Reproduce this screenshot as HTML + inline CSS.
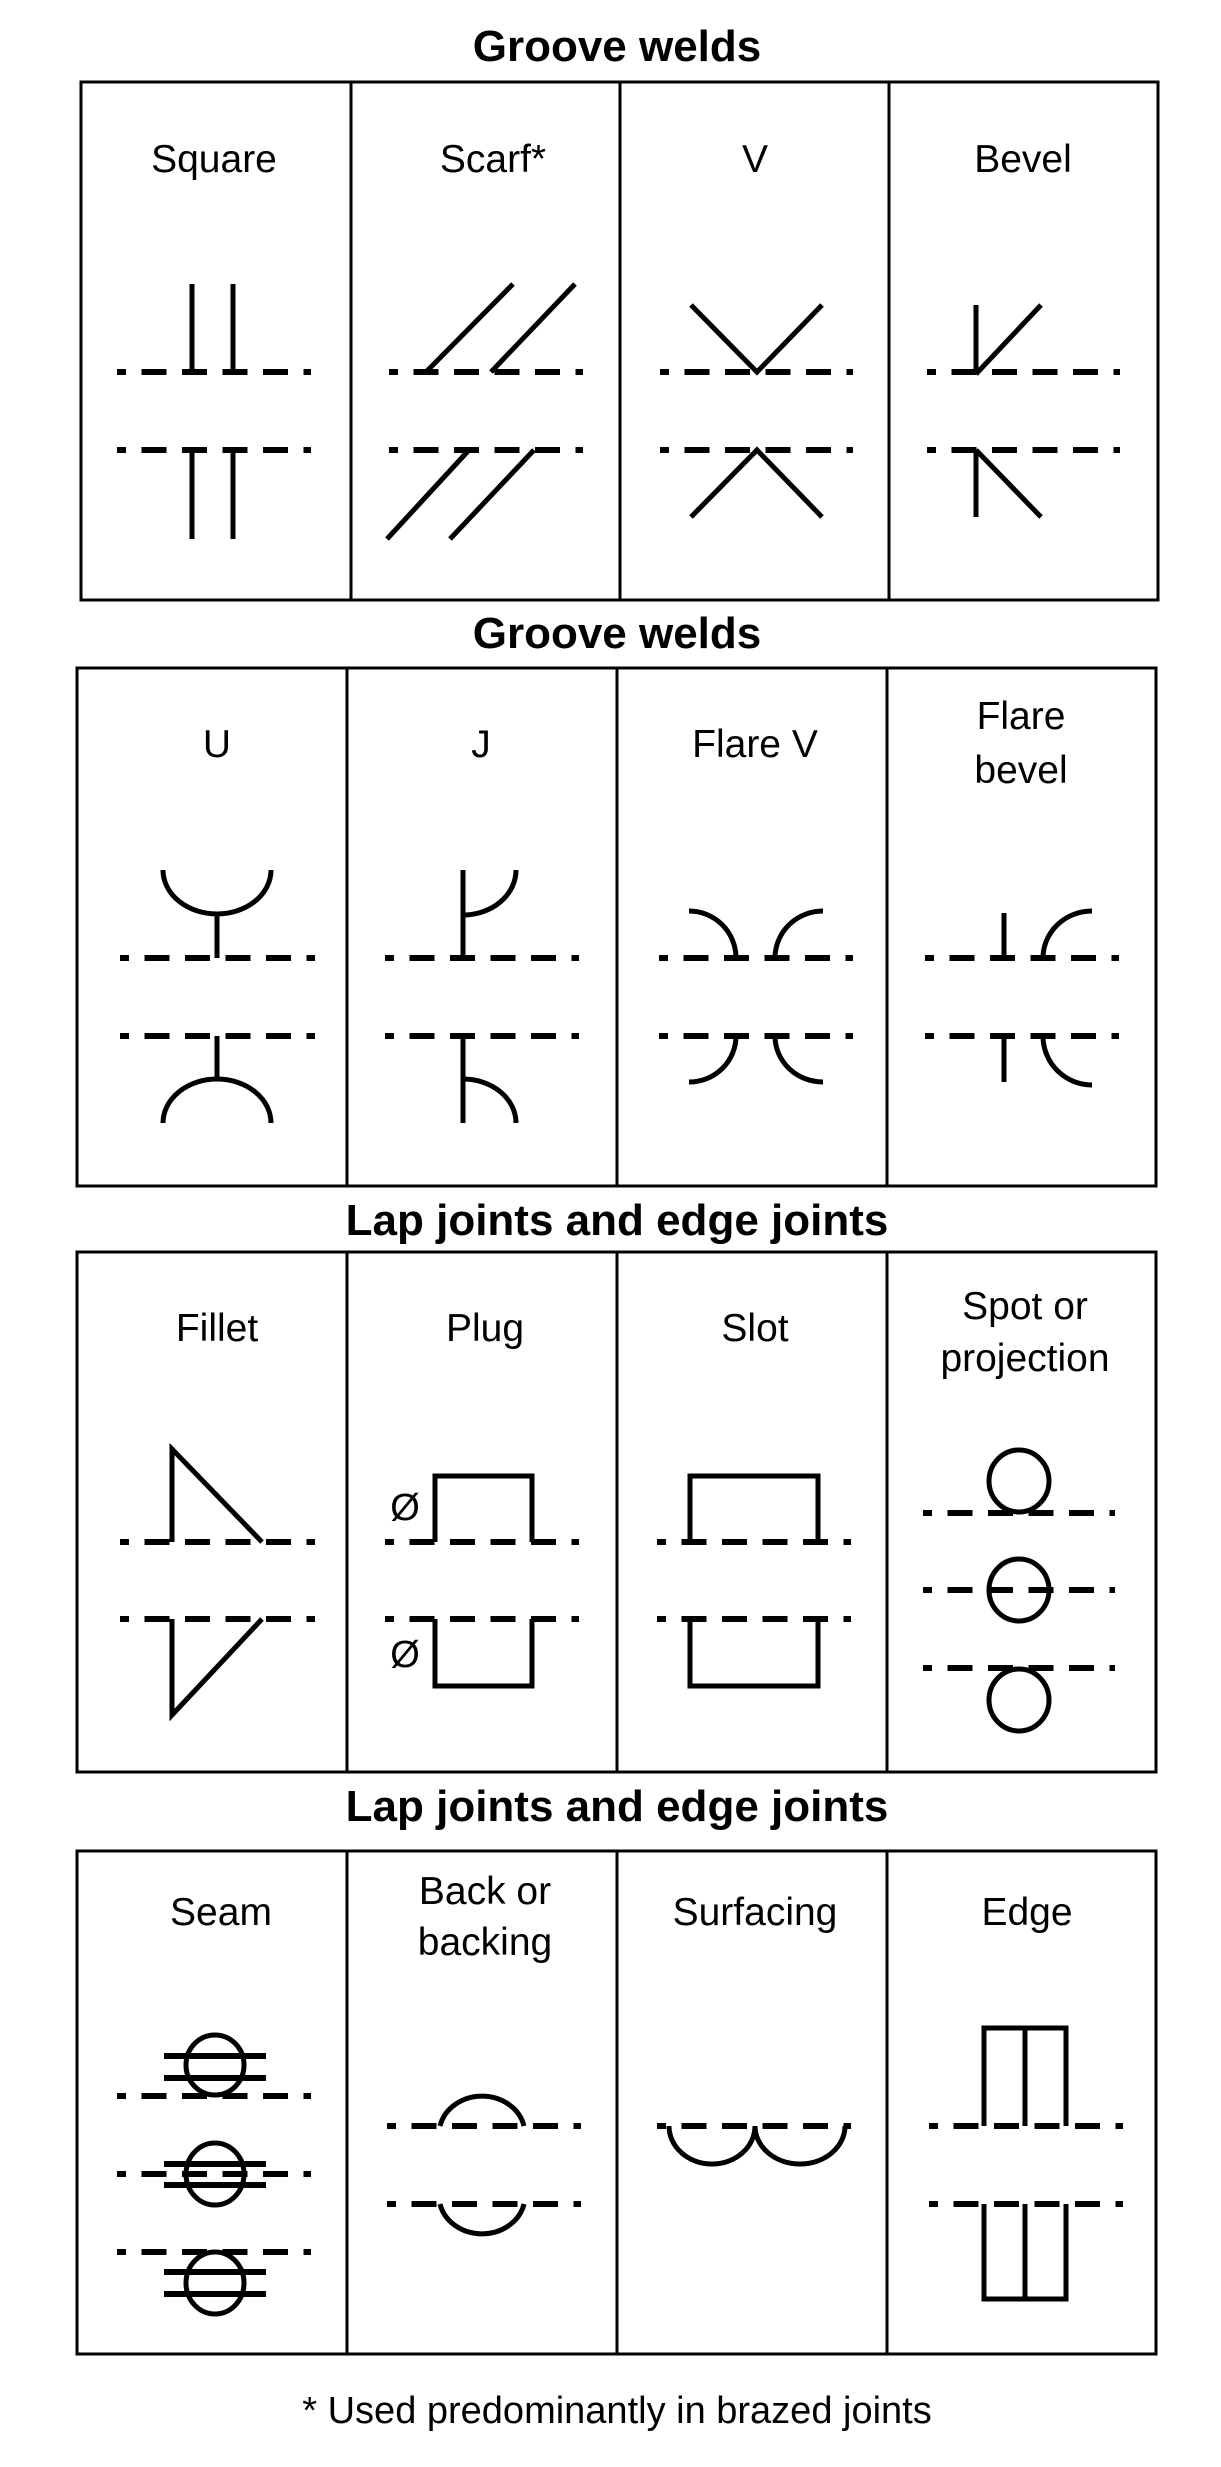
<!DOCTYPE html>
<html><head><meta charset="utf-8"><title>Weld symbols</title>
<style>
html,body{margin:0;padding:0;background:#fff;}
svg{display:block;}
text{font-family:"Liberation Sans",Arial,sans-serif;fill:#000;}
.t{font-size:44px;font-weight:bold;text-anchor:middle;}
.l{font-size:39px;text-anchor:middle;}
.box{fill:none;stroke:#000;stroke-width:3;}
.d{stroke:#000;stroke-width:6;stroke-dasharray:25 15.5;stroke-dashoffset:16;fill:none;}
.s{stroke:#000;stroke-width:5;fill:none;}
</style></head>
<body>
<svg width="1221" height="2467" viewBox="0 0 1221 2467">
<!-- Section 1 -->
<text class="t" x="617" y="61">Groove welds</text>
<g>
<rect class="box" x="81" y="82" width="1077" height="518"/>
<line class="box" x1="351" y1="82" x2="351" y2="600"/>
<line class="box" x1="620" y1="82" x2="620" y2="600"/>
<line class="box" x1="889" y1="82" x2="889" y2="600"/>
</g>
<text class="l" x="214" y="172">Square</text>
<text class="l" x="493" y="172">Scarf*</text>
<text class="l" x="755" y="172">V</text>
<text class="l" x="1023" y="172">Bevel</text>
<g>
<line class="d" x1="117" y1="372" x2="311" y2="372"/><line class="d" x1="117" y1="450" x2="311" y2="450"/>
<path class="s" d="M192,284V372M233,284V372M192,450V539M233,450V539"/>
</g>
<g>
<line class="d" x1="389" y1="372" x2="583" y2="372"/><line class="d" x1="389" y1="450" x2="583" y2="450"/>
<path class="s" d="M426,372L513,284M491,372L575,284M469,450L387,539M534,450L450,539"/>
</g>
<g>
<line class="d" x1="660" y1="372" x2="853" y2="372"/><line class="d" x1="660" y1="450" x2="853" y2="450"/>
<path class="s" d="M691,305L757,372L822,305M691,517L757,450L822,517"/>
</g>
<g>
<line class="d" x1="927" y1="372" x2="1120" y2="372"/><line class="d" x1="927" y1="450" x2="1120" y2="450"/>
<path class="s" d="M976,305V374M976,374L1041,305M976,450V517M976,450L1041,517"/>
</g>

<!-- Section 2 -->
<text class="t" x="617" y="648">Groove welds</text>
<g>
<rect class="box" x="77" y="668" width="1079" height="518"/>
<line class="box" x1="347" y1="668" x2="347" y2="1186"/>
<line class="box" x1="617" y1="668" x2="617" y2="1186"/>
<line class="box" x1="887" y1="668" x2="887" y2="1186"/>
</g>
<text class="l" x="217" y="757">U</text>
<text class="l" x="481" y="757">J</text>
<text class="l" x="755" y="757">Flare V</text>
<text class="l" x="1021" y="729">Flare<tspan x="1021" y="783">bevel</tspan></text>
<g>
<line class="d" x1="120" y1="958" x2="315" y2="958"/><line class="d" x1="120" y1="1036" x2="315" y2="1036"/>
<path class="s" d="M163,870A54,44 0 0 0 271,870M217,914V958M217,1036V1079M163,1123A54,44 0 0 1 271,1123"/>
</g>
<g>
<line class="d" x1="385" y1="958" x2="579" y2="958"/><line class="d" x1="385" y1="1036" x2="579" y2="1036"/>
<path class="s" d="M463,870V958M463,915A53,45 0 0 0 516,870M463,1036V1123M463,1079A53,44 0 0 1 516,1123"/>
</g>
<g>
<line class="d" x1="659" y1="958" x2="853" y2="958"/><line class="d" x1="659" y1="1036" x2="853" y2="1036"/>
<path class="s" d="M689,911A47,47 0 0 1 736,958M775,958A48,47 0 0 1 823,911M736,1036A47,46 0 0 1 689,1082M775,1036A48,46 0 0 0 823,1082"/>
</g>
<g>
<line class="d" x1="925" y1="958" x2="1119" y2="958"/><line class="d" x1="925" y1="1036" x2="1119" y2="1036"/>
<path class="s" d="M1004,913V958M1043,958A49,47 0 0 1 1092,911M1004,1036V1082M1043,1036A49,49 0 0 0 1092,1085"/>
</g>

<!-- Section 3 -->
<text class="t" x="617" y="1235">Lap joints and edge joints</text>
<g>
<rect class="box" x="77" y="1252" width="1079" height="520"/>
<line class="box" x1="347" y1="1252" x2="347" y2="1772"/>
<line class="box" x1="617" y1="1252" x2="617" y2="1772"/>
<line class="box" x1="887" y1="1252" x2="887" y2="1772"/>
</g>
<text class="l" x="217" y="1341">Fillet</text>
<text class="l" x="485" y="1341">Plug</text>
<text class="l" x="755" y="1341">Slot</text>
<text class="l" x="1025" y="1319">Spot or<tspan x="1025" y="1371">projection</tspan></text>
<g>
<line class="d" x1="120" y1="1542" x2="315" y2="1542"/><line class="d" x1="120" y1="1619" x2="315" y2="1619"/>
<path class="s" d="M172,1542V1449L262,1542M172,1619V1715L262,1619"/>
</g>
<g>
<line class="d" x1="385" y1="1542" x2="579" y2="1542"/><line class="d" x1="385" y1="1619" x2="579" y2="1619"/>
<path class="s" d="M435,1542V1476H532V1542M435,1619V1686H532V1619"/>
<text x="405" y="1520" style="font-size:38px;text-anchor:middle">Ø</text>
<text x="405" y="1667" style="font-size:38px;text-anchor:middle">Ø</text>
</g>
<g>
<line class="d" x1="657" y1="1542" x2="851" y2="1542"/><line class="d" x1="657" y1="1619" x2="851" y2="1619"/>
<path class="s" d="M690,1542V1476H818V1542M690,1619V1686H818V1619"/>
</g>
<g>
<line class="d" x1="923" y1="1513" x2="1115" y2="1513"/><line class="d" x1="923" y1="1590" x2="1115" y2="1590"/><line class="d" x1="923" y1="1668" x2="1115" y2="1668"/>
<ellipse class="s" cx="1019" cy="1481" rx="30" ry="31"/>
<ellipse class="s" cx="1019" cy="1590" rx="30" ry="31"/>
<ellipse class="s" cx="1019" cy="1700" rx="30" ry="31"/>
</g>

<!-- Section 4 -->
<text class="t" x="617" y="1821">Lap joints and edge joints</text>
<g>
<rect class="box" x="77" y="1851" width="1079" height="503"/>
<line class="box" x1="347" y1="1851" x2="347" y2="2354"/>
<line class="box" x1="617" y1="1851" x2="617" y2="2354"/>
<line class="box" x1="887" y1="1851" x2="887" y2="2354"/>
</g>
<text class="l" x="221" y="1925">Seam</text>
<text class="l" x="485" y="1904">Back or<tspan x="485" y="1955">backing</tspan></text>
<text class="l" x="755" y="1925">Surfacing</text>
<text class="l" x="1027" y="1925">Edge</text>
<g>
<line class="d" x1="117" y1="2096" x2="311" y2="2096"/><line class="d" x1="117" y1="2174" x2="311" y2="2174"/><line class="d" x1="117" y1="2252" x2="311" y2="2252"/>
<ellipse class="s" cx="215" cy="2065" rx="29" ry="30"/>
<ellipse class="s" cx="215" cy="2174" rx="29" ry="31"/>
<ellipse class="s" cx="215" cy="2283" rx="29" ry="31"/>
<path class="s" style="stroke-width:6" d="M164,2056H266M164,2078H266M164,2164H266M164,2185H266M164,2272H266M164,2294H266"/>
</g>
<g>
<line class="d" x1="387" y1="2126" x2="581" y2="2126"/><line class="d" x1="387" y1="2204" x2="581" y2="2204"/>
<path class="s" d="M440,2126A43,38 0 0 1 524,2126M440,2204A43,38 0 0 0 524,2204"/>
</g>
<g>
<line class="d" x1="657" y1="2126" x2="851" y2="2126"/>
<path class="s" d="M669,2126A43,38 0 0 0 755,2126A45,38 0 0 0 845,2126"/>
</g>
<g>
<line class="d" x1="929" y1="2126" x2="1123" y2="2126"/><line class="d" x1="929" y1="2204" x2="1123" y2="2204"/>
<path class="s" d="M984,2126V2028H1066V2126M1025,2028V2126M984,2204V2299H1066V2204M1025,2204V2299"/>
</g>
<text x="617" y="2423" style="font-size:38px;text-anchor:middle">* Used predominantly in brazed joints</text>
</svg>
</body></html>
